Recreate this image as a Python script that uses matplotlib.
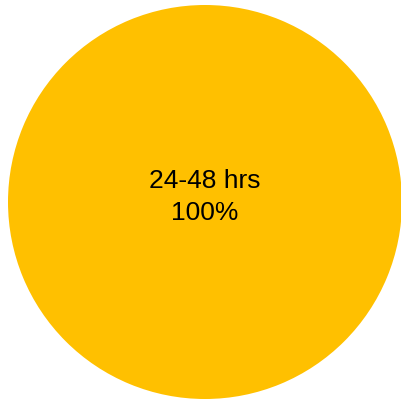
import matplotlib.pyplot as plt

# Data
categories = ['24-48 hrs']
values = [100]
colors = ['#FFC000']

fig = plt.figure(figsize=(4.01, 4.0), dpi=100)
ax = fig.add_axes([8 / 401, 1 / 400, 394 / 401, 394 / 400])

wedges, _ = ax.pie(values, colors=colors, startangle=90, radius=1.0,
                   wedgeprops={'linewidth': 0})
ax.set_xlim(-1, 1)
ax.set_ylim(-1, 1)
ax.axis('off')

# Data label in the middle of the slice
total = sum(values)
for cat, val in zip(categories, values):
    ax.text(0, 0.025, f"{cat}\n{val / total * 100:.0f}%", ha='center', va='center',
            fontsize=19, family='Liberation Sans', color='black', linespacing=1.38)

fig.savefig('out.png', dpi=100)
